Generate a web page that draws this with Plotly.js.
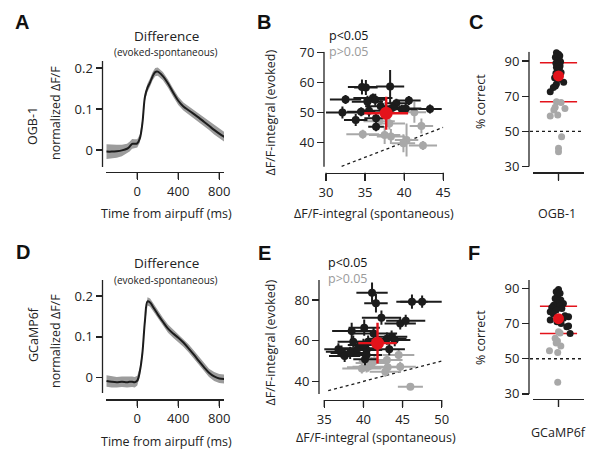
<!DOCTYPE html>
<html>
<head>
<meta charset="utf-8">
<script src="https://cdn.plot.ly/plotly-3.0.1.min.js"></script>
<style>html,body{margin:0;padding:0;background:#fff}#chart{width:600px;height:460px}</style>
</head>
<body>
<div id="chart"></div>
<script>
// ---------------- DATA ----------------
const timeMs = [-300,-250,-200,-150,-100,-75,-50,-25,0,25,50,75,100,125,150,175,200,250,300,350,400,450,500,550,600,650,700,750,800,850];
const ogbDiff = [-0.004,-0.004,-0.003,-0.001,0.003,0.008,0.015,0.015,0.016,0.028,0.065,0.13,0.152,0.165,0.18,0.19,0.191,0.18,0.162,0.14,0.12,0.106,0.097,0.088,0.079,0.069,0.059,0.049,0.04,0.032];
const ogbSem = [0.018,0.017,0.016,0.014,0.012,0.012,0.012,0.011,0.01,0.01,0.01,0.01,0.01,0.01,0.01,0.01,0.01,0.01,0.01,0.01,0.01,0.01,0.01,0.01,0.01,0.01,0.01,0.011,0.012,0.012];
const gcDiff = [-0.008,-0.01,-0.011,-0.01,-0.011,-0.01,-0.01,-0.011,-0.007,0.015,0.06,0.14,0.187,0.184,0.175,0.165,0.155,0.137,0.12,0.108,0.098,0.086,0.072,0.057,0.041,0.026,0.012,0.003,-0.002,-0.003];
const gcSem = [0.014,0.014,0.013,0.013,0.013,0.013,0.013,0.013,0.012,0.011,0.01,0.01,0.01,0.01,0.01,0.01,0.01,0.01,0.01,0.01,0.01,0.01,0.01,0.01,0.01,0.01,0.01,0.011,0.011,0.011];

// Panel B (OGB-1) spontaneous vs evoked integrals
const bSigX  = [32.5,32.1,33.8,34.5,34.6,35.1,38.2,35.3,36.0,36.3,37.0,39.0,40.6,40.2,39.7,43.3,36.4,36.4,35.5,38.5];
const bSigY  = [54.3,49.9,47.4,50.2,58.4,58.3,58.6,53.5,54.8,54.2,52.0,53.0,53.9,51.3,51.0,51.1,45.2,48.0,50.5,51.5];
const bSigXe = [2.0,2.2,1.5,1.8,1.8,1.5,1.8,2.0,2.5,1.5,2.0,1.5,1.5,2.0,2.0,1.5,1.0,1.5,1.5,1.5];
const bSigYe = [1.5,2.0,2.0,1.5,2.5,2.5,5.5,2.0,1.5,2.0,2.0,1.5,1.5,1.5,1.5,1.5,1.5,1.5,2.0,2.0];
const bNsX  = [34.7,36.8,38.1,37.5,38.3,41.3,42.2,40.3,39.9,42.4];
const bNsY  = [42.7,47.0,46.3,42.4,41.9,50.0,45.4,40.8,39.7,38.9];
const bNsXe = [2.1,2.0,2.0,2.0,1.8,1.5,1.5,1.5,1.5,1.8];
const bNsYe = [1.5,1.5,2.0,3.0,2.5,3.5,2.5,5.5,3.0,1.5];
const bMean = [37.7, 49.7];
const bMeanErr = [2.8, 5.5];
const bUnity = [32, 45];

// Panel E (GCaMP6f)
const eSigX  = [41.1,41.6,46.2,47.5,42.3,44.7,45.4,38.5,40.1,41.3,40.6,43.0,43.6,44.0,38.7,36.8,37.2,37.6,39.3,40.4,40.2,43.3,40.0,40.4,38.3];
const eSigY  = [83.6,78.4,79.2,79.2,71.3,68.5,69.8,64.8,66.4,63.6,59.5,61.0,62.0,60.3,59.5,55.8,54.6,52.5,56.3,55.4,50.9,55.8,57.9,53.0,54.0];
const eSigXe = [2.0,1.5,2.0,2.8,2.5,2.0,2.5,2.5,2.0,3.0,2.0,2.5,2.0,2.0,2.0,2.5,2.0,2.0,2.5,2.0,1.5,2.0,2.0,2.0,2.5];
const eSigYe = [5.0,4.5,3.5,3.0,3.5,3.0,3.0,4.0,4.0,3.0,3.0,3.0,3.0,3.0,3.0,3.0,3.0,3.0,3.0,3.0,3.0,3.0,3.0,3.0,3.0];
const eNsX  = [44.5,43.0,44.7,43.1,39.8,40.6,41.0,42.8,46.0,41.4,40.4];
const eNsY  = [53.0,50.5,47.2,47.0,46.4,47.2,49.0,44.8,37.4,50.0,46.9];
const eNsXe = [2.0,2.0,2.0,2.0,2.5,2.0,2.0,2.0,1.6,2.0,2.5];
const eNsYe = [2.5,3.0,2.5,2.5,2.5,2.5,3.0,2.5,1.5,3.0,2.5];
const eMean = [41.8, 58.8];
const eMeanErr = [2.45, 10.0];
const eUnity = [35.5, 50];

// Panel C (OGB-1) % correct
const cSigVal = [94.7,93.8,93.0,92.1,91.0,90.2,89.6,88.8,88.3,87.2,86.5,85.8,84.5,83.5,83.0,80.5,79.6,77.9,77.0,75.8,75.0,72.6];
const cSigJit = [-0.08,0.0,0.05,-0.12,0.02,-0.05,0.08,-0.1,0.0,0.06,-0.08,0.03,-0.04,0.1,-0.1,-0.15,0.0,0.2,-0.08,-0.12,-0.2,-0.32];
const cNsVal = [66.9,66.5,63.7,62.2,63.0,58.8,59.3,47.0,40.4,38.5];
const cNsJit = [-0.08,0.1,-0.13,-0.18,0.25,-0.32,-0.03,0.12,0.0,0.0];
const cMean = 81.5;
const cBounds = [89.0, 66.8];

// Panel F (GCaMP6f) % correct
const fSigVal = [89.4,88.1,87.2,85.6,84.3,83.4,81.8,81.5,80.5,79.9,79.2,78.6,77.7,76.7,73.9,73.0,72.0,71.1,68.6,68.2,64.4,75.5,74.5,70.0];
const fSigJit = [0.0,-0.09,0.06,-0.04,-0.13,0.09,-0.06,0.19,-0.19,0.04,-0.26,0.13,-0.09,-0.32,0.39,0.19,-0.32,-0.06,0.39,0.32,0.45,-0.2,0.25,0.1];
const fNsVal = [65.3,64.7,61.6,60.1,59.0,57.2,54.6,53.6,36.6];
const fNsJit = [0.0,0.06,-0.13,-0.04,-0.09,0.09,-0.35,-0.03,-0.03];
const fMean = 72.8;
const fBounds = [79.8, 64.3];
const chanceLevel = 50;
const groupCenter = 0;

// tick values
const timeTicks = [0,400,800];
const bTicksX = [30,35,40,45];
const eTicksX = [35,40,45,50];

// ---------------- STYLE ----------------
const FONT = 'Open Sans, sans-serif';
const AXC = '#222';
const BLACK = '#1c1c1c', GRAY = '#a8a8a8', RED = '#e3131b', BAND = '#9c9c9c';
const px = v => v/600, py = v => 1 - v/460;

function band(x, y, e, xa, ya){
  const lo = y.map((v,i)=>v-e[i]), hi = y.map((v,i)=>v+e[i]);
  return [
    {x:x, y:lo, xaxis:xa, yaxis:ya, mode:'lines', line:{width:0,color:BAND}, hoverinfo:'skip'},
    {x:x, y:hi, xaxis:xa, yaxis:ya, mode:'lines', fill:'tonexty', fillcolor:BAND, line:{width:0,color:BAND}, hoverinfo:'skip'},
    {x:x, y:y, xaxis:xa, yaxis:ya, mode:'lines', line:{width:2,color:BLACK,shape:'spline'}, hoverinfo:'skip'}
  ];
}
function errPts(x, y, xe, ye, color, size, xa, ya, thick){
  return {x:x, y:y, xaxis:xa, yaxis:ya, mode:'markers', type:'scatter',
    marker:{color:color, size:size},
    error_x:{type:'data', array:xe, visible:true, color:color, thickness:thick, width:0},
    error_y:{type:'data', array:ye, visible:true, color:color, thickness:thick, width:0}, cliponaxis:false};
}
function jitPts(jit, val, color, size, xa, ya){
  return {x:jit, y:val, xaxis:xa, yaxis:ya, mode:'markers', type:'scatter', marker:{color:color, size:size}, cliponaxis:false};
}
function boundLines(bounds, xa, ya){
  return bounds.map(b => ({x:[-0.72,0.72], y:[b,b], xaxis:xa, yaxis:ya, mode:'lines', line:{color:RED,width:1.5}}));
}

const traces = [];
traces.push(...band(timeMs, ogbDiff, ogbSem, 'x', 'y'));
traces.push(...band(timeMs, gcDiff, gcSem, 'x4', 'y4'));

traces.push({x:bUnity, y:bUnity, xaxis:'x2', yaxis:'y2', mode:'lines', line:{color:BLACK,width:1.3,dash:'dot'}});
traces.push(errPts(bNsX, bNsY, bNsXe, bNsYe, GRAY, 8, 'x2', 'y2', 2));
traces.push(errPts(bSigX, bSigY, bSigXe, bSigYe, BLACK, 8, 'x2', 'y2', 2));
traces.push(errPts([bMean[0]], [bMean[1]], [bMeanErr[0]], [bMeanErr[1]], RED, 13, 'x2', 'y2', 2.4));

traces.push({x:eUnity, y:eUnity, xaxis:'x5', yaxis:'y5', mode:'lines', line:{color:BLACK,width:1.3,dash:'dot'}});
traces.push(errPts(eNsX, eNsY, eNsXe, eNsYe, GRAY, 8, 'x5', 'y5', 2));
traces.push(errPts(eSigX, eSigY, eSigXe, eSigYe, BLACK, 8, 'x5', 'y5', 2));
traces.push(errPts([eMean[0]], [eMean[1]], [eMeanErr[0]], [eMeanErr[1]], RED, 13, 'x5', 'y5', 2.4));

traces.push(...boundLines(cBounds, 'x3', 'y3'));
traces.push(jitPts(cNsJit, cNsVal, GRAY, 7, 'x3', 'y3'));
traces.push(jitPts(cSigJit, cSigVal, BLACK, 7, 'x3', 'y3'));
traces.push(jitPts([groupCenter], [cMean], RED, 11, 'x3', 'y3'));

traces.push(...boundLines(fBounds, 'x6', 'y6'));
traces.push(jitPts(fNsJit, fNsVal, GRAY, 7, 'x6', 'y6'));
traces.push(jitPts(fSigJit, fSigVal, BLACK, 7, 'x6', 'y6'));
traces.push(jitPts([groupCenter], [fMean], RED, 11, 'x6', 'y6'));

const axBase = {linecolor:AXC, linewidth:1.3, ticks:'outside', ticklen:7,
  tickwidth:1.3, tickcolor:AXC, showgrid:false, zeroline:false, tickfont:{family:FONT,size:13,color:AXC}, fixedrange:true};
const xa = o => Object.assign({}, axBase, {showline:true}, o);
const ya = o => Object.assign({}, axBase, {showline:false, anchor:'free'}, o);

// y-axis line extents (detached from the x-axis, as in the reference)
const yLines = [
  {ref:'y',  xpx:102.5, lo:-0.0415, hi:0.217},
  {ref:'y2', xpx:324,   lo:31.87,   hi:70.2},
  {ref:'y3', xpx:529,   lo:30,      hi:95.3},
  {ref:'y4', xpx:102.5, lo:-0.0375, hi:0.2392},
  {ref:'y5', xpx:319,   lo:33.81,   hi:89.83},
  {ref:'y6', xpx:529,   lo:30,      hi:94.8}
];

const layout = {
  width:600, height:460, margin:{l:0,r:0,t:0,b:0}, paper_bgcolor:'#fff', plot_bgcolor:'rgba(0,0,0,0)',
  showlegend:false, hovermode:false,
  xaxis:  xa({anchor:'y',  domain:[px(106),px(224)], range:[-305,846], tickvals:timeTicks}),
  yaxis:  ya({domain:[py(172),py(61)], range:[-0.0537,0.217], position:px(102.5), tickvals:[0,0.1,0.2], ticktext:['0','0.1','0.2']}),
  xaxis2: xa({anchor:'y2', domain:[px(326),px(443.3)], range:[30,45], tickvals:bTicksX}),
  yaxis2: ya({domain:[py(172.7),py(51.7)], range:[29.87,70.2], position:px(324), tickvals:[40,50,60,70]}),
  xaxis3: xa({anchor:'y3', domain:[px(532.7),px(584.3)], range:[-1,1], tickvals:[groupCenter], showticklabels:false}),
  yaxis3: ya({domain:[py(172.3),py(51.7)], range:[26.76,95.3], position:px(529), tickvals:[30,50,70,90]}),
  xaxis4: xa({anchor:'y4', domain:[px(106),px(224)], range:[-305,846], tickvals:timeTicks}),
  yaxis4: ya({domain:[py(399.3),py(280)], range:[-0.0529,0.2392], position:px(102.5), tickvals:[0,0.1,0.2], ticktext:['0','0.1','0.2']}),
  xaxis5: xa({anchor:'y5', domain:[px(324.3),px(441.7)], range:[35,50], tickvals:eTicksX}),
  yaxis5: ya({domain:[py(400),py(280)], range:[30.86,89.83], position:px(319), tickvals:[40,60,80]}),
  xaxis6: xa({anchor:'y6', domain:[px(532.7),px(584.3)], range:[-1,1], tickvals:[groupCenter], showticklabels:false}),
  yaxis6: ya({domain:[py(399),py(280)], range:[27.1,94.8], position:px(529), tickvals:[30,50,70,90]}),
  shapes: [
    {type:'line', xref:'paper', yref:'y3', x0:px(530), x1:px(582), y0:chanceLevel, y1:chanceLevel, line:{color:BLACK,width:1.3,dash:'dot'}},
    {type:'line', xref:'paper', yref:'y6', x0:px(530), x1:px(582), y0:chanceLevel, y1:chanceLevel, line:{color:BLACK,width:1.3,dash:'dot'}}
  ].concat(yLines.map(l => ({type:'line', xref:'paper', yref:l.ref, x0:px(l.xpx), x1:px(l.xpx), y0:l.lo, y1:l.hi, line:{color:AXC,width:1.3}}))),
  annotations: []
};

// x tick marks added as shapes, placed with each axis' own domain/range mapping
const xTickSpec = [
  {ax:'xaxis',  yax:'yaxis',  vals:timeTicks,     len:7},
  {ax:'xaxis2', yax:'yaxis2', vals:bTicksX,       len:7},
  {ax:'xaxis3', yax:'yaxis3', vals:[groupCenter], len:8},
  {ax:'xaxis4', yax:'yaxis4', vals:timeTicks,     len:7},
  {ax:'xaxis5', yax:'yaxis5', vals:eTicksX,       len:7},
  {ax:'xaxis6', yax:'yaxis6', vals:[groupCenter], len:8}
];
xTickSpec.forEach(s => {
  const a = layout[s.ax], yb = layout[s.yax].domain[0];
  s.vals.forEach(v => {
    const f = (v - a.range[0]) / (a.range[1] - a.range[0]);
    const xp = a.domain[0] + f * (a.domain[1] - a.domain[0]);
    layout.shapes.push({type:'line', xref:'paper', yref:'paper', x0:xp, x1:xp, y0:yb, y1:yb - s.len/460,
      line:{color:AXC, width:1.4}, layer:'above'});
  });
});

function ann(text, x, y, size, opts){
  layout.annotations.push(Object.assign({text:text, xref:'paper', yref:'paper', x:px(x), y:py(y), showarrow:false,
    xanchor:'center', yanchor:'middle', font:{family:FONT, size:size, color:AXC}}, opts||{}));
}
const LET = {family:'Liberation Sans, Arial, sans-serif', size:20, color:'#111'};
ann('<b>A</b>', 22, 22, 20, {font:LET});
ann('<b>B</b>', 264, 22, 20, {font:LET});
ann('<b>C</b>', 476, 22, 20, {font:LET});
ann('<b>D</b>', 23, 252, 20, {font:LET});
ann('<b>E</b>', 264, 253, 20, {font:LET});
ann('<b>F</b>', 474, 253, 20, {font:LET});

ann('Difference', 166, 35.5, 13.5);
ann('(evoked-spontaneous)', 166, 52.5, 10);
ann('Difference', 166, 262.5, 13.5);
ann('(evoked-spontaneous)', 166, 279.5, 10);

ann('OGB-1', 33, 126, 12.5, {textangle:-90});
ann('normalized ΔF/F', 55, 113, 12.5, {textangle:-90});
ann('GCaMP6f', 33, 335, 12.5, {textangle:-90});
ann('normalized ΔF/F', 55, 341, 12.5, {textangle:-90});
ann('Time from airpuff (ms)', 166, 213, 12.5);
ann('Time from airpuff (ms)', 166, 441.5, 12.5);

ann('ΔF/F-integral (evoked)', 270, 112.5, 12.5, {textangle:-90});
ann('ΔF/F-integral (spontaneous)', 374, 213, 12.5);
ann('ΔF/F-integral (evoked)', 270, 342.5, 12.5, {textangle:-90});
ann('ΔF/F-integral (spontaneous)', 376, 437, 12.5);
const pLegend = '<span style="color:#111">p&lt;0.05</span><br><span style="color:#9a9a9a">p&gt;0.05</span>';
ann(pLegend, 327.5, 43, 12.5, {xanchor:'left', align:'left'});
ann(pLegend, 326, 270, 12.5, {xanchor:'left', align:'left'});

ann('% correct', 480, 102, 12.5, {textangle:-90});
ann('OGB-1', 557, 213, 12.5);
ann('% correct', 480, 338, 12.5, {textangle:-90});
ann('GCaMP6f', 558, 432, 12.5);

Plotly.newPlot('chart', traces, layout, {staticPlot:true, displayModeBar:false});
</script>
</body>
</html>
